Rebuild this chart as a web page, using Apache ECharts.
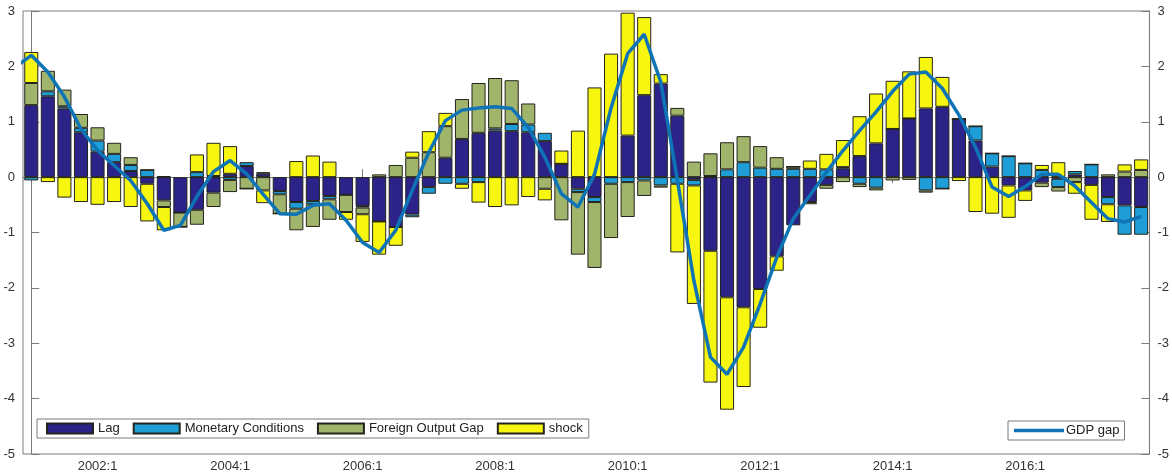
<!DOCTYPE html>
<html>
<head>
<meta charset="utf-8">
<script src="https://cdn.jsdelivr.net/npm/echarts/dist/echarts.min.js"></script>
<style>
  html, body { margin: 0; padding: 0; background: #fff; }
  #chart { width: 1172px; height: 473px; }
</style>
</head>
<body>
<div id="chart"></div>
<script>
// quarters 2001:1 .. 2017:4
const years = [2001, 2002, 2003, 2004, 2005, 2006, 2007, 2008, 2009, 2010, 2011, 2012, 2013, 2014, 2015, 2016, 2017]
const quarters = []
years.forEach((y) => { for (let q = 1; q <= 4; q++) quarters.push(y + ':' + q) })

// contributions, one value per quarter
const lag = [
  1.30, 1.46, 1.24, 0.81, 0.46, 0.27, 0.11, -0.12, -0.42, -0.64, -0.59, -0.28,
  0.06, 0.20, 0.06, -0.25, -0.45, -0.43, -0.34, -0.32, -0.52, -0.80, -0.90, -0.675,
  -0.18, 0.35, 0.69, 0.80, 0.84, 0.83, 0.81, 0.65, 0.24, -0.21, -0.36, 0,
  0.75, 1.48, 1.69, 1.11, -0.05, -1.33, -2.17, -2.35, -2.02, -1.43, -0.87, -0.45,
  -0.14, 0.16, 0.38, 0.61, 0.87, 1.06, 1.24, 1.27, 1.05, 0.66, 0.19, -0.15,
  -0.24, -0.10, -0.03, 0.05, -0.14, -0.36, -0.51, -0.54
]
const monetaryConditions = [
  -0.06, 0.09, 0.04, 0.08, 0.20, 0.15, 0.11, 0.13, 0.02, 0, 0.09, 0.02,
  -0.05, 0.07, 0.03, -0.06, -0.12, -0.06, -0.06, 0, -0.03, 0, 0, -0.05,
  -0.12, -0.12, -0.12, -0.09, 0.04, 0.13, 0.14, 0.15, 0, -0.06, -0.09, -0.12,
  -0.09, -0.06, -0.15, -0.12, -0.10, 0.02, 0.14, 0.27, 0.17, 0.15, 0.15, 0.15,
  0.14, 0.02, -0.12, -0.19, 0, 0, -0.24, -0.21, 0, 0.26, 0.24, 0.38,
  0.25, 0.13, -0.15, 0.06, 0.23, -0.13, -0.53, -0.50
]
const foreignOutputGap = [
  0.40, 0.37, 0.30, 0.25, 0.24, 0.20, 0.14, 0, -0.12, -0.26, -0.27, -0.26,
  -0.22, -0.21, -0.24, -0.35, -0.39, -0.41, -0.37, -0.31, -0.12, 0.05, 0.22, 0.35,
  0.45, 0.57, 0.72, 0.90, 0.91, 0.79, 0.38, -0.21, -0.78, -1.13, -1.19, -0.98,
  -0.63, -0.28, -0.04, 0.14, 0.28, 0.41, 0.49, 0.47, 0.39, 0.21, 0.04, -0.04,
  -0.07, -0.09, -0.06, -0.05, -0.06, -0.05, -0.04, 0, 0, 0, 0, 0,
  0, -0.08, -0.08, -0.09, 0, 0.05, 0.10, 0.13
]
const shock = [
  0.56, -0.09, -0.37, -0.45, -0.50, -0.45, -0.54, -0.68, -0.42, 0, 0.32, 0.60,
  0.50, 0, -0.23, 0, 0.29, 0.39, 0.28, -0.14, -0.50, -0.60, -0.34, 0.11,
  0.38, 0.24, -0.09, -0.37, -0.54, -0.51, -0.36, -0.21, 0.24, 0.84, 1.62, 2.23,
  2.22, 1.41, 0.17, -1.24, -2.14, -2.38, -2.03, -1.44, -0.70, -0.26, 0, 0.15,
  0.28, 0.49, 0.72, 0.90, 0.87, 0.85, 0.93, 0.54, -0.07, -0.63, -0.66, -0.585,
  -0.19, 0.09, 0.27, -0.21, -0.63, -0.32, 0.13, 0.19
]
// GDP gap, starts one quarter earlier (2000:4) so the line runs to the left edge
const gdpGap = [
  1.98,
  2.20, 1.90, 1.45, 0.87, 0.48, 0.21, -0.06, -0.48, -0.96, -0.87, -0.35, 0.10,
  0.30, 0.06, -0.31, -0.66, -0.67, -0.51, -0.48, -0.78, -1.18, -1.36, -0.96, -0.24,
  0.45, 1.02, 1.21, 1.25, 1.27, 1.24, 0.90, 0.36, -0.30, -0.54, 0.05, 1.25,
  2.23, 2.58, 1.72, -0.05, -1.87, -3.25, -3.56, -3.07, -2.29, -1.45, -0.75, -0.33,
  0.09, 0.48, 0.84, 1.18, 1.55, 1.86, 1.90, 1.60, 1.12, 0.54, -0.18, -0.35,
  -0.17, 0.05, 0.05, -0.16, -0.46, -0.75, -0.81, -0.71
]
const yTicks = [-5, -4, -3, -2, -1, 0, 1, 2, 3]

const chart = echarts.init(document.getElementById('chart'))
const fontFamily = '"Liberation Sans", Arial, Helvetica, sans-serif'
const axisColor = '#7a7a7a'
const labelEvery8 = (idx) => idx % 8 === 4

const barSeries = (name, data, color) => ({
  name: name,
  type: 'bar',
  stack: 'decomp',
  data: data,
  barCategoryGap: '15%',
  itemStyle: { color: color, borderColor: '#24241c', borderWidth: 1 },
  emphasis: { disabled: true },
})

const yAxisBase = (pos) => ({
  type: 'value',
  position: pos,
  min: yTicks[0],
  max: yTicks[yTicks.length - 1],
  interval: 1,
  splitLine: { show: false },
  axisLine: { show: true, lineStyle: { color: axisColor } },
  axisTick: { show: true, inside: true, length: 8, lineStyle: { color: axisColor } },
  axisLabel: { color: '#333', fontSize: 13, fontFamily: fontFamily, margin: 8 },
})

const option = {
  animation: false,
  grid: { left: 23, right: 22, top: 11, bottom: 19, show: true, borderColor: axisColor, borderWidth: 1 },
  legend: [
    {
      data: ['Lag', 'Monetary Conditions', 'Foreign Output Gap', 'shock'],
      icon: 'rect',
      left: 37,
      top: 419,
      itemWidth: 46,
      itemHeight: 10,
      itemGap: 13,
      padding: [3, 6, 3, 9],
      borderColor: axisColor,
      borderWidth: 1,
      backgroundColor: '#fff',
      textStyle: { fontSize: 13, color: '#222', fontFamily: fontFamily, padding: [0, 0, 0, 0] },
    },
    {
      data: ['GDP gap'],
      icon: 'rect',
      left: 1008,
      top: 421,
      itemWidth: 50,
      itemHeight: 3.5,
      padding: [3, 5, 3, 6],
      borderColor: axisColor,
      borderWidth: 1,
      backgroundColor: '#fff',
      textStyle: { fontSize: 13, color: '#222', fontFamily: fontFamily, padding: [0, 0, 0, -3] },
    },
  ],
  xAxis: [
    {
      type: 'category',
      data: quarters,
      position: 'bottom',
      axisLine: { show: true, lineStyle: { color: axisColor } },
      axisTick: { show: true, inside: true, length: 8, interval: labelEvery8, alignWithLabel: true, lineStyle: { color: axisColor } },
      axisLabel: { interval: labelEvery8, color: '#333', fontSize: 13, fontFamily: fontFamily, margin: 6 },
    },
    {
      type: 'category',
      data: quarters,
      position: 'top',
      axisLine: { show: false },
      axisTick: { show: true, inside: true, length: 6, interval: labelEvery8, alignWithLabel: true, lineStyle: { color: axisColor } },
      axisLabel: { show: false },
    },
    {
      type: 'value',
      min: -0.5,
      max: quarters.length - 0.5,
      show: false,
    },
  ],
  yAxis: [yAxisBase('left'), yAxisBase('right')],
  series: [
    barSeries('Lag', lag, '#2c2389'),
    barSeries('Monetary Conditions', monetaryConditions, '#1e9dd6'),
    barSeries('Foreign Output Gap', foreignOutputGap, '#a0b46c'),
    barSeries('shock', shock, '#f6f610'),
    {
      name: 'GDP gap',
      type: 'line',
      xAxisIndex: 2,
      yAxisIndex: 0,
      data: gdpGap.map((v, k) => [k - 1, v]),
      symbol: 'none',
      clip: true,
      lineStyle: { color: '#0f74b6', width: 3.5 },
      itemStyle: { color: '#0f74b6' },
      z: 5,
    },
  ],
}

chart.setOption(option)
</script>
</body>
</html>
